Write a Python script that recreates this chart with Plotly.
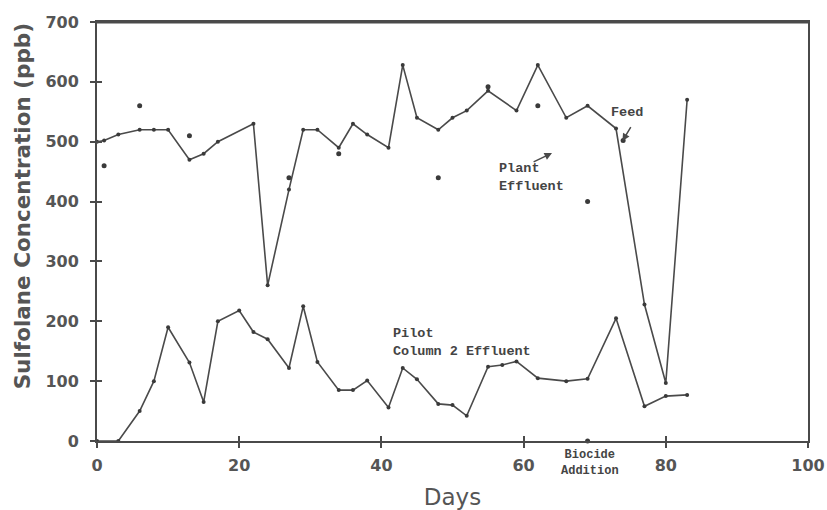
import plotly.graph_objects as go

# Feed concentration (ppb) by day
feed_days = [0, 1, 3, 6, 8, 10, 13, 15, 17, 22, 24, 27, 29, 31, 34, 36, 38, 41, 43, 45,
             48, 50, 52, 55, 59, 62, 66, 69, 73, 77, 80, 83]
feed_ppb = [500, 502, 512, 520, 520, 520, 470, 480, 500, 530, 260, 420, 520, 520, 490, 530,
            512, 490, 628, 540, 520, 540, 552, 585, 552, 628, 540, 560, 522, 228, 97, 570]

# Plant effluent grab samples (ppb)
plant_days = [1, 6, 13, 27, 34, 48, 55, 62, 69, 74]
plant_ppb = [460, 560, 510, 440, 480, 440, 592, 560, 400, 502]

# Pilot column 2 effluent (ppb)
pilot_days = [0, 3, 6, 8, 10, 13, 15, 17, 20, 22, 24, 27, 29, 31, 34, 36, 38, 41, 43, 45,
              48, 50, 52, 55, 57, 59, 62, 66, 69, 73, 77, 80, 83]
pilot_ppb = [0, 0, 50, 100, 190, 131, 65, 200, 218, 182, 170, 122, 225, 132, 85, 85, 101,
             56, 122, 103, 62, 60, 42, 124, 127, 133, 105, 100, 104, 205, 58, 75, 77]

biocide_day = [69]
biocide_ppb = [0]

x_ticks = [0, 20, 40, 60, 80, 100]
y_ticks = [0, 100, 200, 300, 400, 500, 600, 700]

INK = "#4a4a4a"
TEXT = "#555555"
NOTE_FONT = dict(family="Liberation Mono", size=13.5, color="#444444", weight="bold")

fig = go.Figure()

fig.add_trace(go.Scatter(
    x=feed_days, y=feed_ppb, mode="lines+markers",
    line=dict(color=INK, width=1.6),
    marker=dict(color="#3a3a3a", size=4),
    cliponaxis=False, showlegend=False))

fig.add_trace(go.Scatter(
    x=pilot_days, y=pilot_ppb, mode="lines+markers",
    line=dict(color=INK, width=1.6),
    marker=dict(color="#3a3a3a", size=4),
    cliponaxis=False, showlegend=False))

fig.add_trace(go.Scatter(
    x=plant_days, y=plant_ppb, mode="markers",
    marker=dict(color="#3a3a3a", size=5),
    showlegend=False))

fig.add_trace(go.Scatter(
    x=biocide_day, y=biocide_ppb, mode="markers",
    marker=dict(color="#3a3a3a", size=5),
    cliponaxis=False, showlegend=False))

# companion axes carrying the inward half of each tick mark
fig.add_trace(go.Scatter(x=[None], y=[None], xaxis="x2", yaxis="y2",
                         showlegend=False, hoverinfo="skip"))

axis_font = dict(family="DejaVu Sans", size=16, color=TEXT, weight="bold")

fig.update_layout(
    width=827, height=510,
    margin=dict(l=97, r=19, t=22, b=69),
    paper_bgcolor="white", plot_bgcolor="white",
    xaxis=dict(
        range=[0, 100], tickvals=x_ticks, ticktext=[str(v) for v in x_ticks],
        showgrid=False, zeroline=False, automargin=False,
        showline=True, linecolor=INK, linewidth=2, mirror=True,
        ticks="outside", ticklen=5, tickwidth=1.5, tickcolor=INK,
        ticklabelstandoff=4,
        tickfont=axis_font,
        title=dict(text="Days", standoff=16,
                   font=dict(family="DejaVu Sans", size=23, color=TEXT)),
    ),
    yaxis=dict(
        range=[0, 700], tickvals=y_ticks, ticktext=[str(v) for v in y_ticks],
        showgrid=False, zeroline=False, automargin=False,
        showline=True, linecolor=INK, linewidth=2, mirror=True,
        ticks="outside", ticklen=5, tickwidth=1.5, tickcolor=INK,
        ticklabelstandoff=8,
        tickfont=axis_font,
    ),
    xaxis2=dict(range=[0, 100], overlaying="x", tickvals=x_ticks, showticklabels=False,
                ticks="inside", ticklen=5, tickwidth=1.5, tickcolor=INK, automargin=False,
                showgrid=False, zeroline=False, showline=False),
    yaxis2=dict(range=[0, 700], overlaying="y", tickvals=y_ticks, showticklabels=False,
                ticks="inside", ticklen=5, tickwidth=1.5, tickcolor=INK, automargin=False,
                showgrid=False, zeroline=False, showline=False),
)

# heavier top rule of the frame
fig.add_shape(type="line", xref="paper", yref="paper", x0=0, x1=1, y0=1, y1=1,
              line=dict(color=INK, width=3))

annotations = [
    dict(x=0, y=0.56, xref="paper", yref="paper", xshift=-75,
         xanchor="center", yanchor="middle",
         text="Sulfolane Concentration (ppb)", textangle=-90, showarrow=False,
         font=dict(family="DejaVu Sans", size=21.5, color=TEXT, weight="bold")),
    dict(x=74.6, y=548, text="Feed", showarrow=False, font=NOTE_FONT),
    dict(x=73.9, y=501, ax=75.2, ay=527, axref="x", ayref="y", text="",
         showarrow=True, arrowhead=2, arrowsize=1, arrowwidth=1.5, arrowcolor=INK),
    dict(x=56.2, y=440, text="Plant<br>Effluent", showarrow=False, align="left",
         xanchor="left", font=NOTE_FONT),
    dict(x=64.0, y=481, ax=61.2, ay=465, axref="x", ayref="y", text="",
         showarrow=True, arrowhead=2, arrowsize=1, arrowwidth=1.5, arrowcolor=INK),
    dict(x=41.4, y=164, text="Pilot<br>Column 2 Effluent", showarrow=False,
         align="left", xanchor="left", font=NOTE_FONT),
    dict(x=69.3, y=-0.053, yref="paper", text="Biocide<br>Addition", showarrow=False,
         align="center", yanchor="middle",
         font=dict(family="Liberation Mono", size=12, color="#444444", weight="bold")),
]
fig.update_layout(annotations=annotations)

fig.write_html("out.html")
